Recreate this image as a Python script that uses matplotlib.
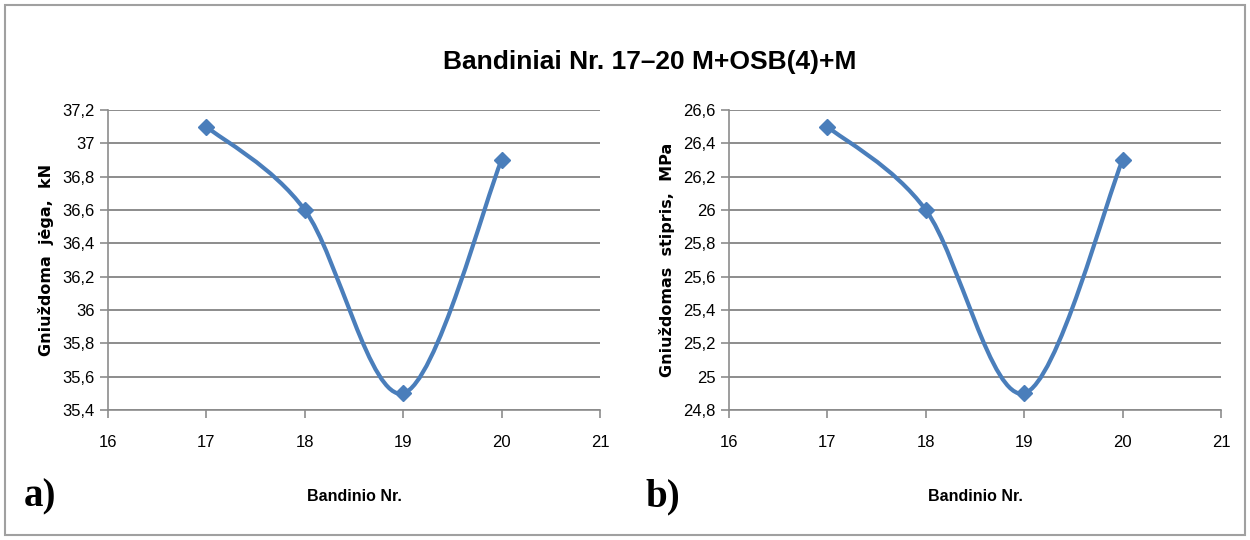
import matplotlib
matplotlib.use("Agg")
import matplotlib.pyplot as plt
import numpy as np
from matplotlib.path import Path
from matplotlib.patches import PathPatch, Rectangle

bandinys = [17, 18, 19, 20]
jega_kn = [37.1, 36.6, 35.5, 36.9]
stipris_mpa = [26.5, 26.0, 24.9, 26.3]
x_ticks = [16, 17, 18, 19, 20, 21]
left_yticks = [35.4, 35.6, 35.8, 36.0, 36.2, 36.4, 36.6, 36.8, 37.0, 37.2]
right_yticks = [24.8, 25.0, 25.2, 25.4, 25.6, 25.8, 26.0, 26.2, 26.4, 26.6]

title = "Bandiniai Nr. 17\u201320 M+OSB(4)+M"
xlabel = "Bandinio Nr."
left_ylabel = "Gniuždoma  jėga,  kN"
right_ylabel = "Gniuždomas  stipris,  MPa"

BLUE = "#4a7ebb"
GRID = "#8c8c8c"
NARROW = ["Liberation Sans", "DejaVu Sans"]


def fmt(v):
    s = ("%.1f" % v).rstrip("0").rstrip(".")
    return s.replace(".", ",")


def smooth_path(xs, ys):
    # Excel-style smoothed line: cubic Bezier segments through the points
    pts = np.column_stack([xs, ys]).astype(float)
    verts = [pts[0]]
    codes = [Path.MOVETO]
    n = len(pts)
    for i in range(n - 1):
        p0 = pts[i - 1] if i > 0 else pts[i]
        p1 = pts[i]
        p2 = pts[i + 1]
        p3 = pts[i + 2] if i + 2 < n else pts[i + 1]
        c1 = p1 + (p2 - p0) / 6.0
        c2 = p2 - (p3 - p1) / 6.0
        verts += [c1, c2, p2]
        codes += [Path.CURVE4] * 3
    return Path(verts, codes)


def draw_panel(ax, ys, yticks, ylabel, ylabel_size, letter, letter_x):
    ax.set_xlim(16, 21)
    ax.set_ylim(yticks[0], yticks[-1])
    ax.set_xticks(x_ticks)
    ax.set_yticks(yticks)
    ax.set_xticklabels([str(t) for t in x_ticks], fontfamily=NARROW, fontsize=12)
    ax.set_yticklabels([fmt(t) for t in yticks], fontfamily=NARROW, fontsize=12)
    ax.grid(axis="y", color=GRID, linewidth=1.4)
    ax.set_axisbelow(True)
    for s in ["top", "right"]:
        ax.spines[s].set_visible(False)
    for s in ["left", "bottom"]:
        ax.spines[s].set_color(GRID)
        ax.spines[s].set_linewidth(1.2)
    ax.tick_params(axis="both", colors=GRID, labelcolor="black", length=6, width=1.2)
    ax.tick_params(axis="x", pad=12)

    ax.add_patch(PathPatch(smooth_path(bandinys, ys), facecolor="none",
                           edgecolor=BLUE, linewidth=3, capstyle="round", zorder=3))
    ax.plot(bandinys, ys, linestyle="none", marker="D", markersize=8.5,
            color=BLUE, zorder=4)

    ax.set_xlabel(xlabel, fontfamily=NARROW, fontsize=11.5, fontweight="bold", labelpad=28)
    ax.set_ylabel(ylabel, fontfamily="DejaVu Sans", fontsize=ylabel_size,
                  fontweight="bold", labelpad=6)
    ax.text(letter_x, 0.08, letter, transform=fig.transFigure, fontsize=28,
            fontfamily="Liberation Serif", fontweight="bold", va="center")


fig = plt.figure(figsize=(12.5, 5.4), dpi=100)
ax1 = fig.add_axes([108 / 1250, 1 - 410 / 540, 492 / 1250, 300 / 540])
ax2 = fig.add_axes([729 / 1250, 1 - 410 / 540, 492 / 1250, 300 / 540])

draw_panel(ax1, jega_kn, left_yticks, left_ylabel, 11.5, "a)", 24 / 1250)
draw_panel(ax2, stipris_mpa, right_yticks, right_ylabel, 11.5, "b)", 645 / 1250)

fig.text(650 / 1250, 1 - 62 / 540, title, ha="center", va="center",
         fontsize=19, fontweight="bold", fontfamily=NARROW)

fig.patches.append(Rectangle((5 / 1250, 5 / 540), 1240 / 1250, 530 / 540,
                             transform=fig.transFigure, fill=False,
                             edgecolor="#a0a0a0", linewidth=1.5))

fig.savefig("out.png", dpi=100)
